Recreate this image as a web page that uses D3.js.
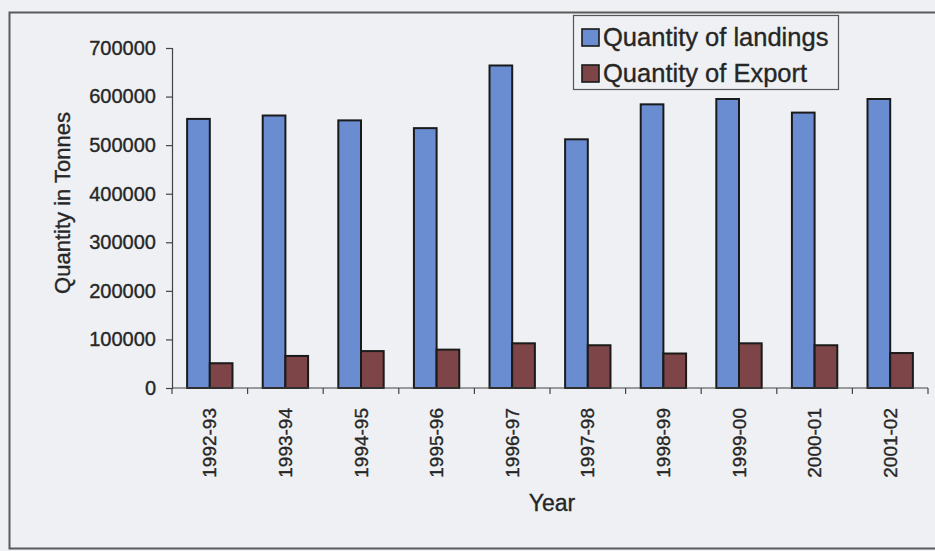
<!DOCTYPE html>
<html>
<head>
<meta charset="utf-8">
<script src="https://cdn.jsdelivr.net/npm/d3@7"></script>
<style>
  html, body { margin: 0; padding: 0; background: #eef0f3; }
  svg { display: block; font-family: "Liberation Sans", Arial, sans-serif; }
  svg text { stroke: #262626; stroke-width: 0.35px; }
</style>
</head>
<body>
<svg id="chart" width="935" height="551"></svg>
<script>
// Fish landings vs. exports, tonnes per season
const years = ["1992-93", "1993-94", "1994-95", "1995-96", "1996-97",
               "1997-98", "1998-99", "1999-00", "2000-01", "2001-02"];
const landings = [554000, 561000, 551000, 535000, 664000, 512000, 584000, 595000, 567000, 595000];
const exports  = [51000, 66000, 76000, 79000, 92000, 88000, 71000, 92000, 88000, 72000];
const seriesNames = ["Quantity of landings", "Quantity of Export"];
const yTicks = [0, 100000, 200000, 300000, 400000, 500000, 600000, 700000];

const colors = ["#6a8dd2", "#7d4547"];
const ink = "#262626";

const svg = d3.select("#chart");

// outer chart frame
svg.append("rect")
  .attr("x", 9.5).attr("y", 12.5)
  .attr("width", 960).attr("height", 536)
  .attr("fill", "none").attr("stroke", "#5a5a5a").attr("stroke-width", 2);

const plot = { left: 172, right: 928, top: 48, bottom: 388 };

const x = d3.scaleBand().domain(years).range([plot.left, plot.right]).padding(0);
const bw = x.bandwidth();
const xs = d3.scaleBand().domain([0, 1]).range([bw * 0.2, bw * 0.8]).padding(0);
const y = d3.scaleLinear().domain([0, 700000]).range([plot.bottom, plot.top]);

// bars
const rows = years.map((yr, i) => ({ yr, vals: [landings[i], exports[i]] }));
const groups = svg.append("g").selectAll("g").data(rows).join("g")
  .attr("transform", d => `translate(${x(d.yr)},0)`);
groups.selectAll("rect").data(d => d.vals.map((v, k) => ({ v, k }))).join("rect")
  .attr("x", d => xs(d.k))
  .attr("y", d => y(d.v))
  .attr("width", xs.bandwidth())
  .attr("height", d => y(0) - y(d.v))
  .attr("fill", d => colors[d.k])
  .attr("stroke", "#1a1a1a")
  .attr("stroke-width", 2);

// y axis
const yAxis = svg.append("g")
  .attr("transform", `translate(${plot.left},0)`)
  .call(d3.axisLeft(y).tickValues(yTicks).tickFormat(d3.format("d")).tickSize(6).tickPadding(10));
yAxis.select(".domain").attr("stroke", "#444").attr("stroke-width", 1.2);
yAxis.selectAll(".tick line").attr("stroke", "#444").attr("stroke-width", 1.2);
yAxis.selectAll(".tick text").attr("fill", ink).style("font-size", "20px");

// x axis: ticks on category boundaries, labels rotated
const xg = svg.append("g").attr("transform", `translate(0,${plot.bottom})`);
xg.append("line").attr("x1", plot.left).attr("x2", plot.right)
  .attr("stroke", "#444").attr("stroke-width", 1.2);
const bounds = years.map(d => x(d)).concat([plot.right]);
xg.selectAll("line.tk").data(bounds).join("line").attr("class", "tk")
  .attr("x1", d => d).attr("x2", d => d).attr("y1", 0).attr("y2", 6)
  .attr("stroke", "#444").attr("stroke-width", 1.2);
xg.selectAll("text").data(years).join("text")
  .attr("transform", d => `translate(${x(d) + bw / 2},20) rotate(-90)`)
  .attr("dy", "0.35em")
  .attr("text-anchor", "end")
  .attr("fill", ink)
  .style("font-size", "19px")
  .text(d => d);

// axis titles
svg.append("text")
  .attr("transform", "translate(62,203) rotate(-90)")
  .attr("dy", "0.35em")
  .attr("text-anchor", "middle")
  .attr("fill", ink)
  .style("font-size", "22px")
  .text("Quantity in Tonnes");

svg.append("text")
  .attr("x", 552).attr("y", 511)
  .attr("text-anchor", "middle")
  .attr("fill", ink)
  .style("font-size", "23px")
  .text("Year");

// legend
const lg = svg.append("g").attr("transform", "translate(573,15)");
lg.append("rect").attr("x", 0.5).attr("y", 0.5).attr("width", 265).attr("height", 74)
  .attr("fill", "#eef0f3").attr("stroke", "#555").attr("stroke-width", 1.2);
seriesNames.forEach((name, k) => {
  lg.append("rect")
    .attr("x", 9).attr("y", 14 + k * 36)
    .attr("width", 17).attr("height", 17)
    .attr("fill", colors[k]).attr("stroke", "#1a1a1a").attr("stroke-width", 1.6);
  lg.append("text")
    .attr("x", 30).attr("y", 31 + k * 36)
    .attr("fill", ink)
    .style("font-size", "25.5px")
    .text(name);
});
</script>
</body>
</html>
